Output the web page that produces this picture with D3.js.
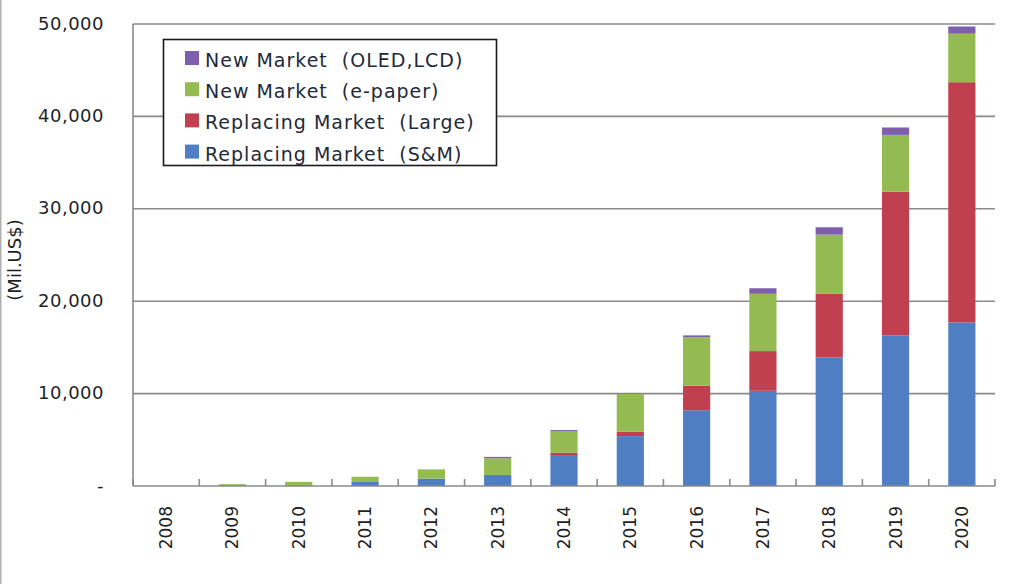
<!DOCTYPE html>
<html>
<head>
<meta charset="utf-8">
<script src="https://cdn.jsdelivr.net/npm/d3@7"></script>
<style>
  html, body { margin: 0; padding: 0; background: #fff; }
  svg { display: block; font-family: "DejaVu Sans", Verdana, sans-serif; }
  .leg text { white-space: pre; }
</style>
</head>
<body>
<svg id="chart" width="1010" height="584"></svg>
<script>
const years = ["2008","2009","2010","2011","2012","2013","2014","2015","2016","2017","2018","2019","2020"];
const replacingSM    = [0, 0, 0, 500, 800, 1200, 3350, 5400, 8200, 10300, 13900, 16300, 17700];
const replacingLarge = [0, 0, 0, 0, 0, 0, 250, 480, 2650, 4300, 6900, 15550, 26000];
const newEpaper      = [0, 200, 450, 500, 1000, 1800, 2300, 4120, 5250, 6200, 6400, 6150, 5250];
const newOled        = [0, 0, 0, 0, 0, 150, 150, 50, 200, 600, 800, 800, 780];
const seriesNames = ["Replacing Market  (S&M)", "Replacing Market  (Large)", "New Market  (e-paper)", "New Market  (OLED,LCD)"];
const seriesColors = ["#4F7EC2", "#C0404F", "#93BB52", "#7E5FAE"];
const yTicks = [0, 10000, 20000, 30000, 40000, 50000];

(function () {
const svg = d3.select("#chart");
const pLeft = 133, pRight = 995, pTop = 24, pBottom = 486;

const x = d3.scaleBand().domain(years).range([pLeft, pRight]).paddingInner(0.59).paddingOuter(0.295);
const y = d3.scaleLinear().domain([0, 50000]).range([pBottom, pTop]);

// outer frame edge on left
svg.append("line").attr("x1", 0.5).attr("x2", 0.5).attr("y1", 0).attr("y2", 584)
  .attr("stroke", "#b0b0b0").attr("stroke-width", 2);

// gridlines
svg.append("g").selectAll("line").data(yTicks.filter(d => d > 0)).join("line")
  .attr("x1", pLeft).attr("x2", pRight)
  .attr("y1", d => y(d)).attr("y2", d => y(d))
  .attr("stroke", "#8a8a8a").attr("stroke-width", 1.6);

// stacked data
const table = years.map((yr, i) => ({ year: yr, s0: replacingSM[i], s1: replacingLarge[i], s2: newEpaper[i], s3: newOled[i] }));
const stack = d3.stack().keys(["s0", "s1", "s2", "s3"]);
const layers = stack(table);

svg.append("g").selectAll("g").data(layers).join("g")
  .attr("fill", (d, i) => seriesColors[i])
  .selectAll("rect").data(d => d).join("rect")
  .attr("x", d => x(d.data.year))
  .attr("width", x.bandwidth())
  .attr("y", d => y(d[1]))
  .attr("height", d => Math.max(0, y(d[0]) - y(d[1])));

// axes lines
svg.append("line").attr("x1", pLeft).attr("x2", pLeft).attr("y1", pTop).attr("y2", pBottom)
  .attr("stroke", "#8a8a8a").attr("stroke-width", 1.6);
svg.append("line").attr("x1", pLeft).attr("x2", pRight).attr("y1", pBottom).attr("y2", pBottom)
  .attr("stroke", "#8a8a8a").attr("stroke-width", 1.6);

// x ticks at category boundaries
const step = x.step();
const boundaries = d3.range(years.length + 1).map(i => pLeft + i * step);
svg.append("g").selectAll("line").data(boundaries).join("line")
  .attr("x1", d => d).attr("x2", d => d)
  .attr("y1", pBottom - 7).attr("y2", pBottom)
  .attr("stroke", "#8a8a8a").attr("stroke-width", 1.6);

// y tick labels
svg.append("g").selectAll("text").data(yTicks).join("text")
  .attr("x", 104).attr("y", d => y(d) - 1)
  .attr("text-anchor", "end").attr("dominant-baseline", "central")
  .attr("font-size", 18).attr("letter-spacing", 0.5).attr("fill", "#1f1f2a")
  .text(d => d === 0 ? "-" : d3.format(",")(d));

// x labels (rotated)
svg.append("g").selectAll("text").data(years).join("text")
  .attr("transform", d => `translate(${x(d) + x.bandwidth() / 2}, 506) rotate(-90)`)
  .attr("text-anchor", "end").attr("dominant-baseline", "central")
  .attr("font-size", 17).attr("fill", "#1f1f1f")
  .text(d => d);

// y axis title
svg.append("text")
  .attr("transform", "translate(14, 260) rotate(-90)")
  .attr("text-anchor", "middle").attr("dominant-baseline", "central")
  .attr("font-size", 18).attr("fill", "#1f1f1f")
  .text("(Mil.US$)");

// legend
const leg = svg.append("g").attr("class", "leg");
leg.append("rect").attr("x", 163.5).attr("y", 39.5).attr("width", 333).attr("height", 126)
  .attr("fill", "#fff").attr("stroke", "#1a1a1a").attr("stroke-width", 1.6);
const legOrder = [3, 2, 1, 0];
const items = leg.selectAll("g.item").data(legOrder).join("g").attr("class", "item")
  .attr("transform", (d, i) => `translate(0, ${i * 31.2})`);
items.append("rect").attr("x", 185).attr("y", 51).attr("width", 14).attr("height", 14)
  .attr("fill", d => seriesColors[d]);
items.append("text").attr("x", 205).attr("y", 67)
  .attr("font-size", 19).attr("letter-spacing", 1.0).attr("fill", "#1e2a3a")
  .text(d => seriesNames[d]);
})();
</script>
</body>
</html>
